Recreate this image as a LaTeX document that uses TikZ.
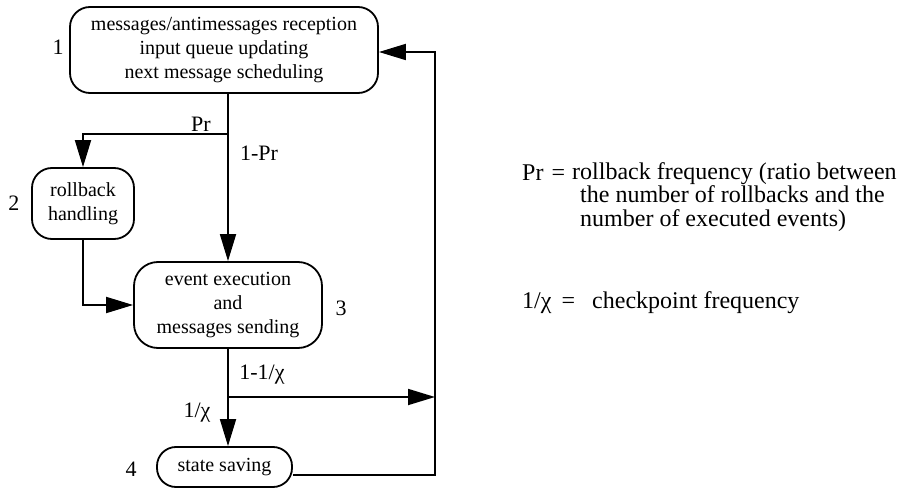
\documentclass[tikz,border=0pt]{standalone}
\usepackage{fontspec}
\setmainfont{Liberation Serif}
\usetikzlibrary{arrows.meta}
\tikzset{
  stepbox/.style={draw, line width=1.8pt, rounded corners=20pt, align=center, inner sep=0pt,
    font=\fontsize{20}{24}\selectfont},
  lbl/.style={font=\fontsize{22}{26}\selectfont, inner sep=0pt},
  note/.style={font=\fontsize{24}{23.5}\selectfont, inner sep=0pt, anchor=west, align=left},
  conn/.style={line width=1.8pt},
  arr/.style={line width=1.8pt, -{Triangle[length=27pt,width=16pt]}}
}
\begin{document}
\begin{tikzpicture}[x=1pt,y=-1pt]
\useasboundingbox (0,0) rectangle (910,489);
% boxes
\node[stepbox, minimum width=308pt, minimum height=86pt] (b1) at (224,50)
  {messages/antimessages reception\\input queue updating\\next message scheduling};
\node[stepbox, minimum width=102pt, minimum height=71pt] (b2) at (83,203.5)
  {rollback\\handling};
\node[stepbox, rounded corners=24pt, minimum width=188pt, minimum height=86pt] (b3) at (228,305)
  {event execution\\and\\messages sending};
\node[stepbox, rounded corners=19pt, minimum width=135pt, minimum height=40pt] (b4) at (224.5,467)
  {state saving};
% numbers
\node[lbl] (n1) at (58,47) {1};
\node[lbl] (n2) at (14,203) {2};
\node[lbl] (n3) at (341,308) {3};
\node[lbl] (n4) at (131,469) {4};
% connectors
\coordinate (s1) at (228,134);
\coordinate (s2) at (228,397);
\coordinate (r2) at (435,397);
\coordinate (c4) at (435,475);
\coordinate (c1) at (435,52);
\draw[conn] (b1.south -| s1) -- (s1);
\draw[arr] (s1) -| (b2.north);
\draw[arr] (s1) -- (b3.north -| s1);
\draw[arr] (b2.south) |- (b3.west);
\draw[conn] (b3.south -| s2) -- (s2);
\draw[arr] (s2) -- (b4.north -| s2);
\draw[arr] (s2) -- (r2);
\draw[arr] (b4.east |- c4) -- (c4) -- (c1) -- (b1.east |- c1);
% branch labels
\node[lbl] (pr) at (201,124) {Pr};
\node[lbl] (opr) at (259,153) {1-Pr};
\node[lbl] (ochi) at (262,375) {1-1/χ};
\node[lbl] (chi) at (197,413) {1/χ};
% legend
\node[note] (k1) at (522,173) {Pr\hspace{8pt}=};
\node[note, anchor=north west] (t1) at (580,162)
  {\hspace*{-8pt}rollback frequency (ratio between\\the number of rollbacks and the\\number of executed events)};
\node[note] (k2) at (522,303) {1/χ\hspace{10pt}=};
\node[note] (t4) at (592,303) {checkpoint frequency};
\end{tikzpicture}
\end{document}
